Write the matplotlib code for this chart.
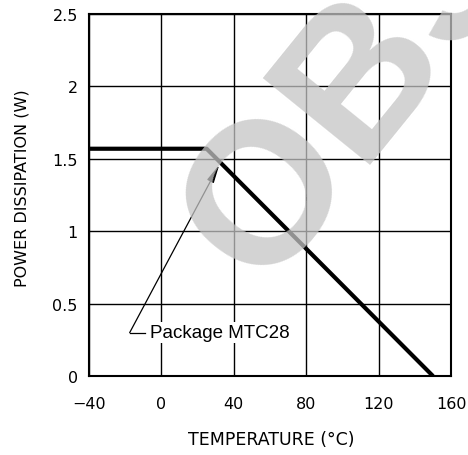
import matplotlib
matplotlib.use("Agg")
import matplotlib.pyplot as plt

# Data
temp = [-40, 25, 150]
power = [1.57, 1.57, 0.0]
xticks = [-40, 0, 40, 80, 120, 160]
yticks = [0, 0.5, 1, 1.5, 2, 2.5]
ytick_labels = ["0", "0.5", "1", "1.5", "2", "2.5"]
xtick_labels = ["\u221240", "0", "40", "80", "120", "160"]
annot_text = "Package MTC28"
annot_tip = (32.0, 1.46)
annot_corner = (-17.5, 0.30)
annot_textpos = (-6.5, 0.30)
watermark = "OBSOLETE"

fig = plt.figure(figsize=(4.68, 4.56), dpi=100)
ax = fig.add_axes([0.190, 0.173, 0.774, 0.794])

ax.plot(temp, power, color="black", lw=3.0, solid_capstyle="butt", zorder=3)

ax.set_xlim(-40, 160)
ax.set_ylim(0, 2.5)
ax.set_xticks(xticks)
ax.set_xticklabels(xtick_labels)
ax.set_yticks(yticks)
ax.set_yticklabels(ytick_labels)
ax.tick_params(length=0, labelsize=11.5)
ax.tick_params(axis="y", pad=8)
ax.tick_params(axis="x", pad=14)
ax.grid(True, color="black", lw=1.0)
for s in ax.spines.values():
    s.set_linewidth(1.5)

ax.set_xlabel("TEMPERATURE (\u00b0C)", fontsize=12.5)
ax.set_ylabel("POWER DISSIPATION (W)", fontsize=11.5)
ax.xaxis.set_label_coords(0.503, -0.174)
ax.xaxis.label.set_va("center")
ax.yaxis.set_label_coords(-0.186, 0.522)
ax.yaxis.label.set_va("center")

# annotation
ax.annotate("", xy=annot_tip, xytext=annot_corner,
            arrowprops=dict(arrowstyle="-|>,head_length=1.1,head_width=0.22",
                            color="black", lw=0.9, shrinkA=0, shrinkB=0),
            zorder=4)
ax.plot([annot_corner[0], annot_textpos[0] - 2.5], [annot_corner[1], annot_corner[1]],
        color="black", lw=0.9, zorder=4)
ax.text(annot_textpos[0], annot_textpos[1], annot_text, fontsize=13.5,
        family=["Liberation Sans", "DejaVu Sans"], va="center", ha="left",
        bbox=dict(facecolor="white", edgecolor="none", pad=1.5), zorder=5)

# watermark
fig.text(0.558, 0.365, watermark, fontsize=145, fontweight="bold",
         family=["Liberation Sans", "DejaVu Sans"], rotation=51,
         rotation_mode="anchor", ha="left", va="baseline",
         color="#c4c4c4", alpha=0.75, zorder=10)

fig.savefig("out.png", dpi=100)
